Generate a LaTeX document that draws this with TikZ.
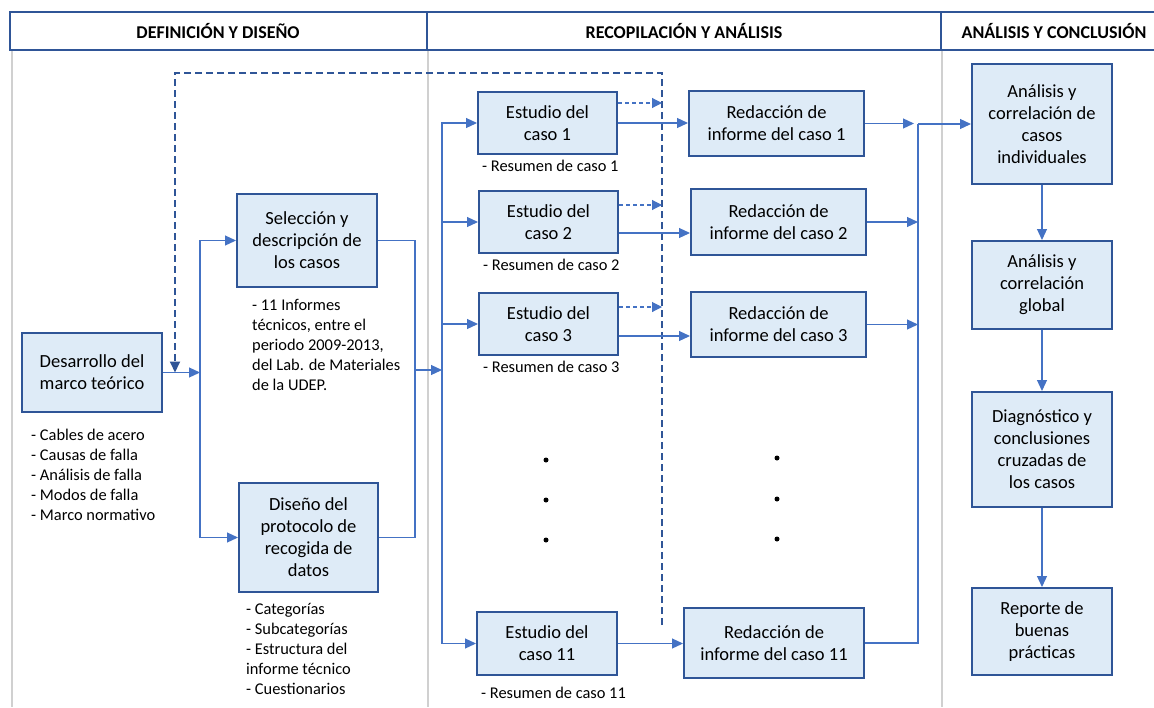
\documentclass[tikz,border=0pt]{standalone}
\usepackage{fontspec}
\setmainfont{Carlito}
\usepackage{xcolor}
\definecolor{cMain}{HTML}{2F5597}
\definecolor{cLine}{HTML}{4472C4}
\definecolor{cFill}{HTML}{DEEBF7}
\definecolor{cGray}{HTML}{D0D0D0}
\usetikzlibrary{positioning,arrows.meta}
\tikzset{
  node-box/.style={draw=cMain,line width=2pt,fill=cFill,minimum width=140pt,
    align=center,inner sep=2pt,font=\fontsize{18.5}{22}\selectfont},
  node-note/.style={anchor=north west,align=left,inner sep=0pt,
    font=\fontsize{16.4}{20}\selectfont},
  node-head/.style={font=\bfseries\fontsize{18}{20}\selectfont},
  head-frame/.style={draw=cMain,line width=2pt},
  lane/.style={draw=cGray,line width=2.5pt},
  link/.style={line width=1.2pt,draw=cLine},
  arrow/.style={-{Triangle[length=11pt,width=10pt]},line width=1.2pt,draw=cLine},
  arrow-dash/.style={-{Triangle[length=10pt,width=10pt]},line width=1.1pt,
    dash pattern=on 4pt off 3pt,draw=cLine},
  loop-back/.style={-{Triangle[length=11pt,width=10pt]},line width=2pt,
    dash pattern=on 7pt off 4pt,draw=cMain},
}

\begin{document}
\begin{tikzpicture}[x=1pt,y=-1pt]
  \useasboundingbox (0,0) rectangle (1154,707);
  % carriles y cabecera
  \draw[lane] (12,50) -- (12,707);
  \draw[lane] (428,50) -- (428,707);
  \draw[lane] (942,50) -- (942,707);
  \draw[head-frame] (1170,12) -- (10,12) -- (10,50) -- (1170,50);
  \draw[head-frame] (427,12) -- (427,50);
  \draw[head-frame] (941,12) -- (941,50);
  \node[node-head] (h-def) at (218,31) {DEFINICIÓN Y DISEÑO};
  \node[node-head] (h-rec) at (684,31) {RECOPILACIÓN Y ANÁLISIS};
  \node[node-head] (h-con) at (1054,31) {ANÁLISIS Y CONCLUSIÓN};

  % definición y diseño
  \node[node-box,minimum height=79pt] (marco) at (92,372.5)
    {Desarrollo del\\marco teórico};
  \node[node-note] (n-marco) at (31,429)
    {- Cables de acero\\- Causas de falla\\- Análisis de falla\\- Modos de falla\\- Marco normativo};
  \node[node-box,minimum height=93pt] (sel) at (307,240.5)
    {Selección y\\descripción de\\los casos};
  \node[node-note] (n-sel) at (252,299)
    {- 11 Informes\\técnicos, entre el\\periodo 2009-2013,\\del Lab. de Materiales\\de la UDEP.};
  \node[node-box,minimum width=139pt,minimum height=109pt] (dis) at (308.5,537.5)
    {Diseño del\\protocolo de\\recogida de\\datos};
  \node[node-note] (n-dis) at (246,603)
    {- Categorías\\- Subcategorías\\- Estructura del\\informe técnico\\- Cuestionarios};

  % recopilación: estudios
  \node[node-box,minimum width=139pt,minimum height=62pt] (est1) at (547.5,123)
    {Estudio del\\caso 1};
  \node[node-box,minimum width=139pt,minimum height=62pt] (est2) at (548.5,222)
    {Estudio del\\caso 2};
  \node[node-box,minimum width=139pt,minimum height=62pt] (est3) at (548.5,324)
    {Estudio del\\caso 3};
  \node[node-box,minimum width=140pt,minimum height=63pt] (est11) at (547,643.5)
    {Estudio del\\caso 11};
  \node[node-note,anchor=west] (r1) at (482,166) {- Resumen de caso 1};
  \node[node-note,anchor=west] (r2) at (483,265) {- Resumen de caso 2};
  \node[node-note,anchor=west] (r3) at (483,367) {- Resumen de caso 3};
  \node[node-note,anchor=west] (r11) at (481,693) {- Resumen de caso 11};

  % recopilación: informes
  \node[node-box,minimum width=175pt,minimum height=65pt] (red1) at (776.5,123.5)
    {Redacción de\\informe del caso 1};
  \node[node-box,minimum width=175pt,minimum height=66pt] (red2) at (778.5,222)
    {Redacción de\\informe del caso 2};
  \node[node-box,minimum width=175pt,minimum height=65pt] (red3) at (778.5,324.5)
    {Redacción de\\informe del caso 3};
  \node[node-box,minimum width=180pt,minimum height=70pt] (red11) at (774,643)
    {Redacción de\\informe del caso 11};
  \foreach \y in {460,500,540} \fill (546,\y) circle (2.5pt);
  \foreach \y in {458,499,539} \fill (777,\y) circle (2.5pt);

  % análisis y conclusión
  \node[node-box,minimum height=120pt] (ana1) at (1042,124)
    {Análisis y\\correlación de\\casos\\individuales};
  \node[node-box,minimum height=88pt] (ana2) at (1042,285)
    {Análisis y\\correlación\\global};
  \node[node-box,minimum height=115pt] (diag) at (1042,449.5)
    {Diagnóstico y\\conclusiones\\cruzadas de\\los casos};
  \node[node-box,minimum height=87pt] (rep) at (1042,631.5)
    {Reporte de\\buenas\\prácticas};

  % conexiones
  \coordinate (busA) at (200,372.5);
  \coordinate (ret) at (175,372.5);
  \coordinate (busB) at (415,370);
  \coordinate (busC) at (442,370);
  \coordinate (backT) at (662,73);
  \coordinate (backB) at (662,625);
  \coordinate (busD) at (918,124);

  \draw[arrow] (marco.east) -- (busA);
  \draw[arrow] (busA) |- (sel.west);
  \draw[arrow] (busA) |- (dis.west);
  \draw[link] (sel.east) -| (busB) |- (dis.east);
  \draw[arrow] (busB) -- (busC);
  \draw[arrow] (busC) |- (est1.west);
  \draw[arrow] (busC) |- (est2.west);
  \draw[arrow] (busC) |- (est3.west);
  \draw[arrow] (busC) |- (est11.west);

  \draw[loop-back] (backB) -- (backT) -| (ret);
  \draw[arrow-dash] ([yshift=20pt]est1.east) -- ([yshift=20pt]est1.east -| backT);
  \draw[arrow-dash] ([yshift=17pt]est2.east) -- ([yshift=17pt]est2.east -| backT);
  \draw[arrow-dash] ([yshift=17pt]est3.east) -- ([yshift=17pt]est3.east -| backT);

  \draw[arrow] (est1.east) -- (est1.east -| red1.west);
  \draw[arrow] ([yshift=-11pt]est2.east) -- ([yshift=-11pt]est2.east -| red2.west);
  \draw[arrow] ([yshift=-12pt]est3.east) -- ([yshift=-12pt]est3.east -| red3.west);
  \draw[arrow] (est11.east) -- (est11.east -| red11.west);

  \draw[arrow,shorten >=4pt] (red1.east) -- (red1.east -| busD);
  \draw[arrow] (red2.east) -- (red2.east -| busD);
  \draw[arrow] (red3.east) -- (red3.east -| busD);
  \draw[link] (red11.east) -| (busD);
  \draw[arrow] (busD) -- (ana1.west);

  \draw[arrow] (ana1) -- (ana2);
  \draw[arrow] (ana2) -- (diag);
  \draw[arrow] (diag) -- (rep);
\end{tikzpicture}
\end{document}
